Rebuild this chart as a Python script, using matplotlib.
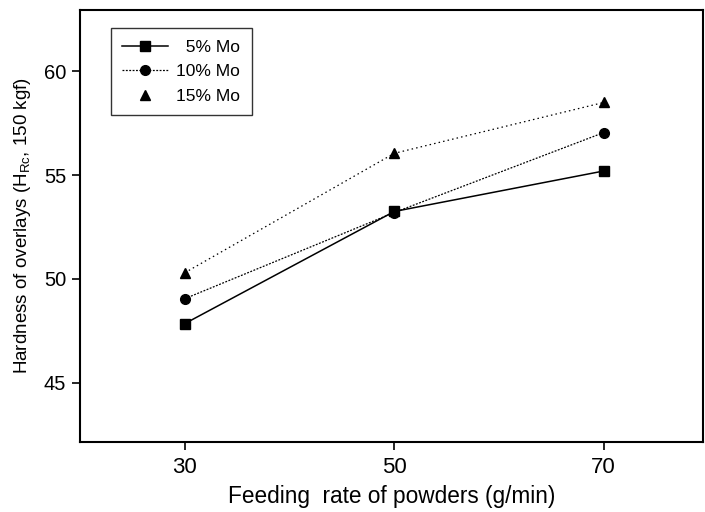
import matplotlib
matplotlib.use("Agg")
import matplotlib.pyplot as plt
from matplotlib.lines import Line2D

plt.rcParams['font.family'] = ['Liberation Sans', 'DejaVu Sans']
plt.rcParams['mathtext.fontset'] = 'custom'
plt.rcParams['mathtext.rm'] = 'Liberation Sans'
plt.rcParams['mathtext.it'] = 'Liberation Sans'

# Data
feed_rate = [30, 50, 70]
mo5 = [47.85, 53.25, 55.2]
mo10 = [49.05, 53.2, 57.05]
mo15 = [50.3, 56.05, 58.5]
series_labels = ['  5% Mo', '10% Mo', '15% Mo']

fig = plt.figure(figsize=(7.05, 5.12), dpi=100)
ax = fig.add_axes([0.1135, 0.1367, 0.884, 0.8437])

ax.plot(feed_rate, mo5, color='black', linestyle='-', linewidth=1.1,
        marker='s', markersize=7, label=series_labels[0])
ax.plot(feed_rate, mo10, color='black', linestyle=(0, (1.5, 1.2)), linewidth=0.9,
        marker='o', markersize=7, label=series_labels[1])
ax.plot(feed_rate, mo15, color='black', linestyle=(0, (1.2, 2.5)), linewidth=0.9,
        marker='^', markersize=7, label=series_labels[2])

ax.set_xlim(20, 79.5)
ax.set_ylim(42.15, 62.95)
ax.set_xticks([30, 50, 70])
ax.set_yticks([45, 50, 55, 60])
ax.tick_params(axis='x', direction='out', length=6, width=1.2, labelsize=16, pad=5)
ax.tick_params(axis='y', direction='out', length=6, width=1.2, labelsize=14.5, pad=4)
for s in ax.spines.values():
    s.set_linewidth(1.5)

ax.set_xlabel('Feeding  rate of powders (g/min)', fontsize=16.3, labelpad=5)
ax.set_ylabel(r'Hardness of overlays (H$_{\rm Rc}$, 150 kgf)', fontsize=13.5, labelpad=8)

handles, labels = ax.get_legend_handles_labels()
# the 15% Mo entry shows only its marker in the original key
handles[2] = Line2D([], [], color='black', linestyle='none', marker='^', markersize=7)
leg = ax.legend(handles, labels, loc='upper left', bbox_to_anchor=(0.036, 0.978),
                fontsize=12.5, frameon=True, fancybox=False, edgecolor='black',
                handlelength=2.6, borderpad=0.65, labelspacing=0.55, handletextpad=0.5)
leg.get_frame().set_linewidth(1.0)

fig.savefig('out.png', dpi=100)
